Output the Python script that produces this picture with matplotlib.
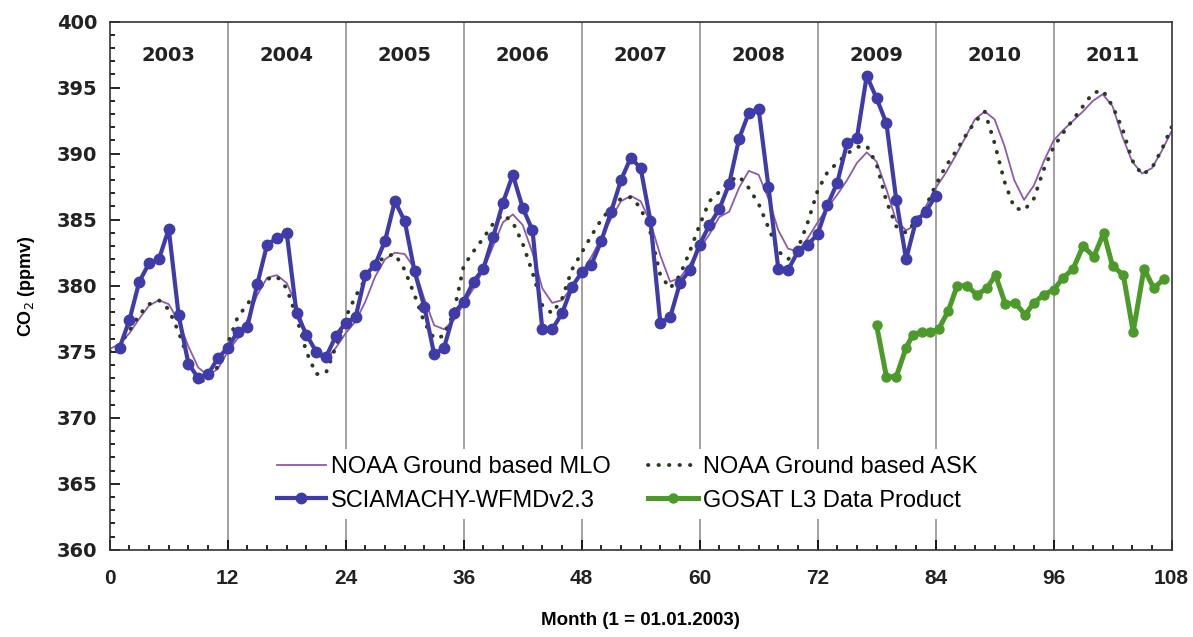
import matplotlib
matplotlib.use("Agg")
import matplotlib.pyplot as plt
from matplotlib.ticker import MultipleLocator

plt.rcParams['font.family'] = ['Liberation Sans', 'DejaVu Sans']

# NOAA Mauna Loa monthly means, month 0..108
mlo = [375.2, 375.6, 376.4, 377.5, 378.5, 378.9, 378.6, 377.3, 375.4, 373.8, 373.2, 373.7, 375.0,
       376.0, 377.4, 379.3, 380.6, 380.8, 380.2, 378.5, 376.3, 374.8, 374.4, 375.3, 376.4,
       377.3, 378.8, 380.7, 382.0, 382.5, 382.4, 381.3, 379.0, 377.0, 376.7, 377.4, 378.6,
       379.8, 381.2, 383.0, 384.8, 385.4, 384.6, 382.5, 379.8, 378.7, 378.9, 379.9, 381.0,
       382.2, 383.6, 385.1, 386.4, 386.8, 386.4, 384.8, 382.3, 380.3, 380.6, 381.6, 382.8,
       383.9, 385.2, 385.6, 387.4, 388.7, 388.4, 386.6, 384.2, 382.8, 382.6, 383.6, 384.8,
       385.9, 386.9, 388.0, 389.3, 390.1, 389.4, 387.3, 384.9, 384.2, 384.6, 386.0, 387.4,
       388.5, 389.8, 391.2, 392.6, 393.2, 392.6, 390.6, 388.0, 386.5, 387.6, 389.4, 391.0,
       391.8, 392.5, 393.2, 394.0, 394.5, 393.6, 391.3, 389.4, 388.5, 388.9, 390.2, 391.7]

# NOAA Cold Bay (ASK) monthly means, month 0..108
ask = [375.0, 375.5, 376.6, 377.8, 378.6, 378.9, 378.2, 376.5, 374.4, 372.8, 372.8, 373.9, 375.6,
       377.6, 378.6, 379.6, 380.5, 380.7, 379.8, 377.6, 375.0, 373.3, 373.4, 375.4, 377.6,
       379.2, 380.5, 381.6, 382.2, 382.4, 381.2, 379.3, 377.2, 376.0, 376.2, 378.0, 381.5,
       382.6, 383.6, 384.7, 385.4, 384.8, 383.2, 381.0, 378.5, 377.9, 379.0, 381.2, 382.5,
       383.8, 385.0, 385.9, 386.6, 386.7, 385.9, 384.0, 380.8, 379.8, 380.8, 382.6, 384.6,
       386.4, 387.1, 387.9, 388.3, 387.4, 386.2, 384.4, 382.6, 382.0, 382.8, 384.8, 387.2,
       388.6, 389.3, 390.0, 390.5, 390.6, 389.2, 386.4, 384.5, 384.0, 384.9, 386.0, 387.6,
       389.0, 390.1, 391.3, 392.4, 393.2, 390.8, 387.9, 385.9, 385.7, 386.6, 388.8, 390.5,
       391.6, 392.6, 393.6, 394.6, 394.8, 393.6, 391.9, 389.5, 388.4, 388.9, 390.3, 392.0]

# SCIAMACHY WFMDv2.3 monthly means, month 1..84
sciamachy = [375.3, 377.4, 380.3, 381.7, 382.0, 384.3, 377.8, 374.1, 373.0, 373.3, 374.5, 375.3,
             376.5, 376.9, 380.1, 383.1, 383.6, 384.0, 377.9, 376.3, 375.0, 374.6, 376.2, 377.2,
             377.6, 380.8, 381.6, 383.4, 386.4, 384.9, 381.1, 378.4, 374.8, 375.3, 377.9, 378.8,
             380.3, 381.3, 383.7, 386.3, 388.4, 385.9, 384.2, 376.7, 376.7, 377.9, 379.9, 381.0,
             381.6, 383.4, 385.6, 388.0, 389.7, 388.9, 384.9, 377.2, 377.6, 380.2, 381.2, 383.1,
             384.6, 385.8, 387.7, 391.1, 393.1, 393.4, 387.5, 381.3, 381.2, 382.6, 383.1, 383.9,
             386.1, 387.8, 390.8, 391.2, 395.9, 394.2, 392.3, 386.5, 382.0, 384.9, 385.6, 386.8]

# GOSAT L3 product
gosat_month = [78, 79, 80, 81, 81.7, 82.6, 83.4, 84.3, 85.3, 86.2, 87.2, 88.2, 89.2, 90.1, 91.1,
               92.1, 93.1, 94, 95, 96, 97, 98, 99, 100.1, 101.1, 102, 103.1, 104.1, 105.2,
               106.2, 107.2]
gosat = [377.0, 373.1, 373.1, 375.3, 376.3, 376.5, 376.5, 376.7, 378.1, 380.0, 380.0, 379.3,
         379.8, 380.8, 378.6, 378.7, 377.8, 378.7, 379.3, 379.7, 380.6, 381.3, 383.0, 382.2,
         384.0, 381.5, 380.8, 376.5, 381.3, 379.8, 380.5]

years = ['2003', '2004', '2005', '2006', '2007', '2008', '2009', '2010', '2011']

fig, ax = plt.subplots(figsize=(11.93, 6.37), dpi=100)
fig.subplots_adjust(left=0.092, right=0.982, top=0.966, bottom=0.137)

for k in range(1, len(years)):
    ax.axvline(12 * k, color='#9a9a9a', lw=1.3, zorder=0)
for k, yr in enumerate(years):
    ax.text(12 * k + 6, 397.4, yr, ha='center', va='center', family='DejaVu Sans',
            fontsize=14, fontweight='bold', color='#222222')

ax.plot(range(len(mlo)), mlo, color='#8e5ba8', lw=1.3,
        label='NOAA Ground based MLO', zorder=2)
ax.plot(range(1, len(sciamachy) + 1), sciamachy, color='#3f3caa', lw=3,
        marker='o', ms=7.5, label='SCIAMACHY-WFMDv2.3', zorder=3)
ax.plot(range(len(ask)), ask, color='#2a3a22', lw=2.8, ls=(0, (0.1, 2.6)),
        dash_capstyle='round', label='NOAA Ground based ASK', zorder=2)
ax.plot(gosat_month, gosat, color='#4c9a2a', lw=3.6, marker='o', ms=6.5,
        label='GOSAT L3 Data Product', zorder=3)

ax.set_xlim(0, 108)
ax.set_ylim(360, 400)
ax.xaxis.set_major_locator(MultipleLocator(12))
ax.xaxis.set_minor_locator(MultipleLocator(2))
ax.yaxis.set_major_locator(MultipleLocator(5))
ax.yaxis.set_minor_locator(MultipleLocator(1))
ax.tick_params(which='both', direction='in', top=False, right=False, width=1.2)
ax.tick_params(which='major', length=7)
ax.tick_params(which='minor', length=3.5)
ax.tick_params(axis='x', pad=14)
ax.tick_params(axis='y', pad=9)
for lbl in ax.get_xticklabels():
    lbl.set_fontsize(15)
    lbl.set_fontweight('bold')
    lbl.set_color('#222222')
for lbl in ax.get_yticklabels():
    lbl.set_family('DejaVu Sans')
    lbl.set_fontsize(14)
    lbl.set_fontweight('bold')
    lbl.set_color('#222222')
for sp in ax.spines.values():
    sp.set_linewidth(1.2)
    sp.set_color('#333333')

ax.set_xlabel('Month (1 = 01.01.2003)', fontsize=13.5, fontweight='bold', labelpad=17)
ax.set_ylabel('CO$_2$ (ppmv)', fontsize=13, fontweight='bold', labelpad=14)

leg = ax.legend(loc='center', bbox_to_anchor=(0.487, 0.125), ncol=2, frameon=True,
                fontsize=17, handlelength=2.1, numpoints=1, columnspacing=1.6,
                handletextpad=0.2, labelspacing=0.5, borderpad=0.3)
leg.get_frame().set_edgecolor('none')
leg.get_frame().set_facecolor('white')
leg.get_frame().set_alpha(1)

fig.savefig('out.png', dpi=100)
